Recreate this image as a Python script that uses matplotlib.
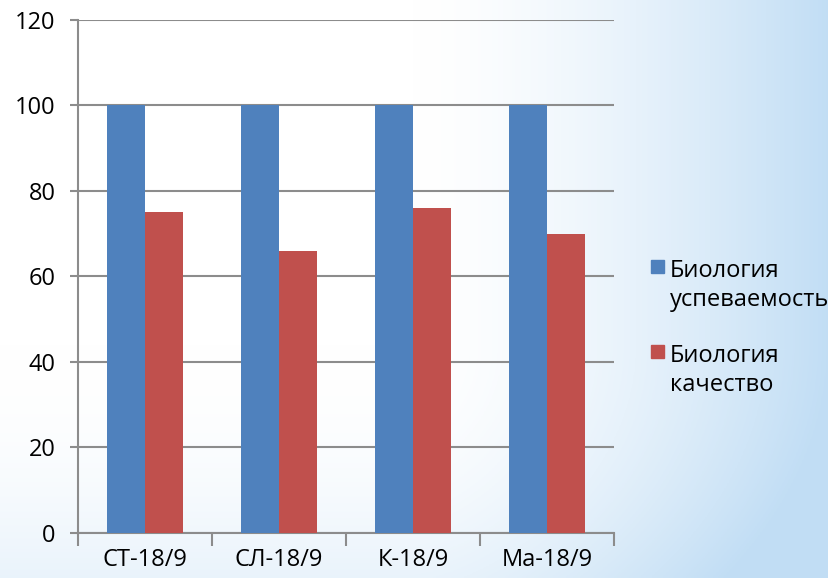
import numpy as np
import matplotlib.pyplot as plt
from matplotlib.patches import Rectangle

categories = ['СТ-18/9', 'СЛ-18/9', 'К-18/9', 'Ма-18/9']
uspevaemost = [100, 100, 100, 100]
kachestvo = [75, 66, 76, 70]
series_names = ['Биология\nуспеваемость', 'Биология\nкачество']
y_ticks = [0, 20, 40, 60, 80, 100, 120]

blue = '#4F81BD'
red = '#C0504D'
grid_col = '#8C8C8C'

plt.rcParams['font.family'] = ['Open Sans', 'DejaVu Sans']

W, H = 829, 578
fig = plt.figure(figsize=(W / 100, H / 100), dpi=100)

# light blue background gradient, stronger to the right and bottom
bg = fig.add_axes([0, 0, 1, 1], zorder=-10)
gx = np.linspace(0, 1, 300)
gy = np.linspace(0, 1, 200)
X, Y = np.meshgrid(gx, gy)
t = np.clip((X - 0.5) / 0.5, 0, 1) ** 1.5 + 0.35 * np.clip((Y - 0.6) / 0.4, 0, 1) ** 2
t = np.clip(t, 0, 1)
white = np.array([1.0, 1.0, 1.0])
light = np.array([0.76, 0.87, 0.96])
img = white[None, None, :] * (1 - t[..., None]) + light[None, None, :] * t[..., None]
bg.imshow(img, aspect='auto', extent=[0, 1, 0, 1], origin='upper')
bg.axis('off')

ax = fig.add_axes([0.0941, 0.0779, 0.6466, 0.8875])
ax.patch.set_alpha(0)

x = np.arange(len(categories))
w = 0.284
ax.bar(x - w / 2, uspevaemost, w, color=blue, zorder=3)
ax.bar(x + w / 2, kachestvo, w, color=red, zorder=3)

ax.set_xlim(-0.5, len(categories) - 0.5)
ax.set_ylim(0, 120)
ax.set_yticks(y_ticks)
ax.yaxis.grid(True, color=grid_col, linewidth=1.5, zorder=0)
ax.set_axisbelow(True)

ax.set_xticks(x)
ax.set_xticklabels(categories)
ax.set_xticks(np.arange(len(categories) + 1) - 0.5, minor=True)
ax.tick_params(axis='x', which='major', length=0, pad=11, labelsize=17)
ax.tick_params(axis='x', which='minor', length=9, width=1.5, color=grid_col)
ax.tick_params(axis='y', length=6, width=1.5, color=grid_col, labelsize=17, pad=10)

for s in ['top', 'right']:
    ax.spines[s].set_visible(False)
for s in ['left', 'bottom']:
    ax.spines[s].set_color(grid_col)
    ax.spines[s].set_linewidth(1.5)

# legend drawn by hand so the marker sits next to the first line of each label
sq = 13
for i, (name, col) in enumerate(zip(series_names, [blue, red])):
    top = 260 + i * 85
    fig.add_artist(Rectangle((651 / W, 1 - (top + sq) / H), sq / W, sq / H,
                             transform=fig.transFigure, color=col))
    fig.text(670 / W, 1 - (top + 25.5) / H, name, fontsize=17, va='center',
             ha='left', linespacing=1.25)

fig.savefig('out.png', dpi=100)
